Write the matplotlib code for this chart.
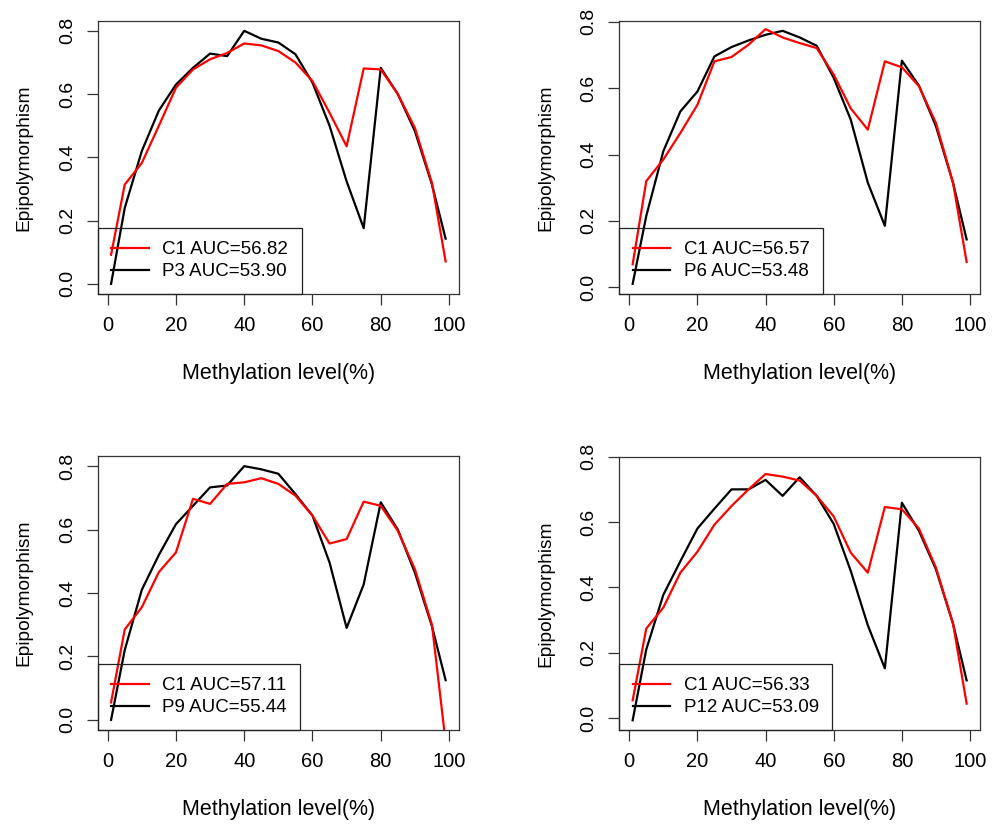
import matplotlib
matplotlib.use("Agg")
import matplotlib.pyplot as plt
import numpy as np

plt.rcParams['font.family'] = ['Liberation Sans', 'DejaVu Sans']

x = [1, 5, 10, 15, 20, 25, 30, 35, 40, 45, 50, 55, 60, 65, 70, 75, 80, 85, 90, 95, 99]

c1_a = [0.092, 0.314, 0.382, 0.50, 0.62, 0.678, 0.71, 0.73, 0.76, 0.754, 0.736, 0.70,
        0.641, 0.541, 0.435, 0.681, 0.678, 0.60, 0.493, 0.319, 0.071]
p3 = [0.0, 0.24, 0.42, 0.548, 0.63, 0.683, 0.728, 0.72, 0.80, 0.775, 0.763, 0.726,
      0.636, 0.50, 0.324, 0.176, 0.683, 0.60, 0.483, 0.314, 0.143]

c1_b = [0.069, 0.32, 0.385, 0.465, 0.55, 0.681, 0.694, 0.731, 0.778, 0.753, 0.736, 0.721,
        0.641, 0.539, 0.475, 0.681, 0.663, 0.606, 0.495, 0.315, 0.076]
p6 = [0.01, 0.215, 0.41, 0.53, 0.59, 0.696, 0.724, 0.744, 0.761, 0.773, 0.753, 0.728,
      0.631, 0.505, 0.315, 0.185, 0.683, 0.608, 0.485, 0.315, 0.144]

c1_c = [0.055, 0.285, 0.355, 0.466, 0.528, 0.697, 0.681, 0.744, 0.749, 0.762, 0.744, 0.707,
        0.644, 0.556, 0.57, 0.688, 0.675, 0.596, 0.475, 0.30, -0.07]
p9 = [0.0, 0.22, 0.41, 0.52, 0.617, 0.675, 0.733, 0.739, 0.80, 0.79, 0.776, 0.712,
      0.644, 0.496, 0.29, 0.427, 0.686, 0.60, 0.464, 0.295, 0.125]

c1_d = [0.054, 0.274, 0.338, 0.445, 0.509, 0.592, 0.649, 0.70, 0.747, 0.739, 0.727, 0.68,
        0.617, 0.506, 0.445, 0.646, 0.639, 0.58, 0.46, 0.289, 0.044]
p12 = [-0.007, 0.21, 0.377, 0.48, 0.58, 0.641, 0.70, 0.70, 0.729, 0.68, 0.737, 0.68,
       0.594, 0.45, 0.284, 0.152, 0.659, 0.573, 0.455, 0.289, 0.115]

panels = [
    (c1_a, p3, "C1 AUC=56.82", "P3 AUC=53.90"),
    (c1_b, p6, "C1 AUC=56.57", "P6 AUC=53.48"),
    (c1_c, p9, "C1 AUC=57.11", "P9 AUC=55.44"),
    (c1_d, p12, "C1 AUC=56.33", "P12 AUC=53.09"),
]

W, H = 996, 832
boxes = [  # left, top, right, bottom in pixels
    (97.7, 20.7, 459, 294),
    (619.3, 20.7, 980, 294),
    (97.7, 456, 459, 730),
    (619.3, 456.7, 980, 730),
]

fig = plt.figure(figsize=(W / 100, H / 100), dpi=100)

xticks = [0, 20, 40, 60, 80, 100]
yticks = [0.0, 0.2, 0.4, 0.6, 0.8]

for (c1, p, lab_c, lab_p), (l, t, r, b) in zip(panels, boxes):
    ax = fig.add_axes([l / W, 1 - b / H, (r - l) / W, (b - t) / H])
    xr = max(x) - min(x)
    ax.set_xlim(min(x) - 0.04 * xr, max(x) + 0.04 * xr)
    yr = max(p) - min(p)
    ax.set_ylim(min(p) - 0.04 * yr, max(p) + 0.04 * yr)
    ax.plot(x, p, color='black', lw=1.6, label=lab_p, zorder=2)
    ax.plot(x, c1, color='#FF0000', lw=1.6, label=lab_c, zorder=3)
    ax.set_xticks(xticks)
    ax.set_xticklabels([str(v) for v in xticks])
    ax.set_yticks(yticks)
    ax.set_yticklabels(["%.1f" % v for v in yticks], rotation=90, va='center')
    ax.tick_params(axis='both', direction='out', length=8, width=0.9,
                   pad=7.7, color='#333333')
    ax.tick_params(axis='x', labelsize=14.5)
    ax.tick_params(axis='y', labelsize=14)
    for s in ax.spines.values():
        s.set_linewidth(0.9)
        s.set_color('#333333')
    ax.set_xlabel("Methylation level(%)", fontsize=15.5, labelpad=20)
    ax.set_ylabel("Epipolymorphism", fontsize=13.8, labelpad=19)
    h, lb = ax.get_legend_handles_labels()
    leg = ax.legend([h[1], h[0]], [lb[1], lb[0]], loc='lower left',
                    bbox_to_anchor=(0, 0), borderaxespad=0, fontsize=13.5,
                    fancybox=False, edgecolor='#222222', facecolor='none',
                    framealpha=1, handlelength=2.0, handletextpad=0.72,
                    borderpad=0.72, labelspacing=0.28)
    leg.get_frame().set_linewidth(0.9)

fig.savefig("out.png", dpi=100)
